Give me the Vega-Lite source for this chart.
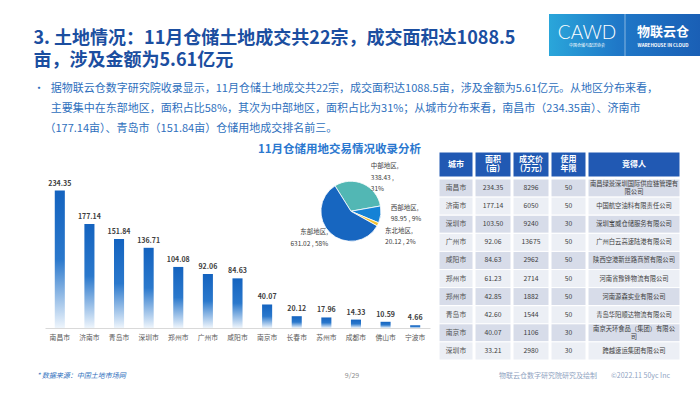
{
"$schema": "https://vega.github.io/schema/vega-lite/v6.json",
"background": "#ffffff",
"padding": {"left": 33, "top": 13, "right": 0, "bottom": 4},
"config": {"view": {"stroke": null}, "font": "Noto Sans CJK SC"},
"datasets": {
  "bars": [
    {"city": "南昌市", "v": 234.35}, {"city": "济南市", "v": 177.14}, {"city": "青岛市", "v": 151.84},
    {"city": "深圳市", "v": 136.71}, {"city": "郑州市", "v": 104.08}, {"city": "广州市", "v": 92.06},
    {"city": "咸阳市", "v": 84.63}, {"city": "南京市", "v": 40.07}, {"city": "长春市", "v": 20.12},
    {"city": "苏州市", "v": 17.96}, {"city": "成都市", "v": 14.33}, {"city": "佛山市", "v": 10.59},
    {"city": "宁波市", "v": 4.66}
  ],
  "pie": [
    {"region": "中部地区", "area": 338.43, "label": "中部地区,\n338.43 ,\n31%"},
    {"region": "西部地区", "area": 98.95, "label": "西部地区,\n98.95 , 9%"},
    {"region": "东北地区", "area": 20.12, "label": "东北地区,\n20.12 , 2%"},
    {"region": "东部地区", "area": 631.02, "label": "东部地区,\n631.02 , 58%"}
  ],
  "tbl": [
    {"r": 1, "city": "南昌市", "area": 234.35, "price": "8296", "yrs": "50", "buyer": "南昌绿景深圳国际供应链管理有\n限公司"},
    {"r": 2, "city": "济南市", "area": 177.14, "price": "6050", "yrs": "50", "buyer": "中国航空油料有限责任公司"},
    {"r": 3, "city": "深圳市", "area": 103.50, "price": "9240", "yrs": "30", "buyer": "深圳宝威仓储服务有限公司"},
    {"r": 4, "city": "广州市", "area": 92.06, "price": "13675", "yrs": "50", "buyer": "广州白云高速陆港有限公司"},
    {"r": 5, "city": "咸阳市", "area": 84.63, "price": "2962", "yrs": "50", "buyer": "陕西空港新丝路商贸有限公司"},
    {"r": 6, "city": "郑州市", "area": 61.23, "price": "2714", "yrs": "50", "buyer": "河南省豫锋物流有限公司"},
    {"r": 7, "city": "郑州市", "area": 42.85, "price": "1882", "yrs": "50", "buyer": "河南源森实业有限公司"},
    {"r": 8, "city": "青岛市", "area": 42.60, "price": "1544", "yrs": "50", "buyer": "青岛华阳顺达物流有限公司"},
    {"r": 9, "city": "南京市", "area": 40.07, "price": "1106", "yrs": "30", "buyer": "南京天环食品（集团）有限公\n司"},
    {"r": 10, "city": "深圳市", "area": 33.21, "price": "2980", "yrs": "30", "buyer": "跨越速运集团有限公司"}
  ],
  "logo": [
    {"k": "CAWD", "sub": "中国仓储与配送协会"},
    {"k": "物联云仓", "sub": "WAREHOUSE IN CLOUD"}
  ],
  "foot": [
    {"k": "src", "t": "* 数据来源：中国土地市场网"},
    {"k": "page", "t": "9/29"},
    {"k": "cr", "t": "物联云仓数字研究院研究及绘制\u2003\u2003©2022.11 50yc Inc"}
  ]
},
"spacing": 10,
"vconcat": [
  {
    "spacing": 9,
    "vconcat": [
      {
        "bounds": "flush",
        "spacing": 15,
        "hconcat": [
          {
            "width": 500, "height": 1,
            "data": {"values": [{}]},
            "mark": {"type": "rule", "opacity": 0},
            "encoding": {},
            "title": {
              "text": ["3. 土地情况：11月仓储土地成交共22宗，成交面积达1088.5", "亩，涉及金额为5.61亿元"],
              "orient": "bottom", "anchor": "start", "offset": 15,
              "font": "Noto Sans CJK SC", "fontSize": 18, "fontWeight": "bold", "color": "#1b4ea0", "lineHeight": 22,
              "subtitle": [
                "•\u2002\u200a据物联云仓数字研究院收录显示，11月仓储土地成交共22宗，成交面积达1088.5亩，涉及金额为5.61亿元。从地区分布来看，",
                "\u200b\u2003\u2002\u200a主要集中在东部地区，面积占比58%，其次为中部地区，面积占比为31%；从城市分布来看，南昌市（234.35亩）、济南市",
                "\u200b\u2003（177.14亩）、青岛市（151.84亩）仓储用地成交排名前三。"
              ],
              "subtitleFont": "Noto Sans CJK SC", "subtitleFontSize": 11, "subtitleColor": "#2e6fbd",
              "subtitleLineHeight": 20, "subtitlePadding": 13
            }
          },
          {
            "width": 152, "height": 42,
            "layer": [
              {
                "data": {"values": [{}]},
                "mark": {"type": "rect", "fill": {"gradient": "linear", "x1": 0, "y1": 0, "x2": 1, "y2": 0,
                  "stops": [{"offset": 0, "color": "#2aa6da"}, {"offset": 0.45, "color": "#1f78c8"}, {"offset": 1, "color": "#1a5fb5"}]}},
                "encoding": {}
              },
              {
                "data": {"values": [{}]},
                "mark": {"type": "rule", "stroke": "#ffffff", "strokeOpacity": 0.6, "strokeWidth": 0.8},
                "encoding": {"x": {"datum": "物联云仓", "type": "nominal", "bandPosition": 0, "scale": {"domain": ["CAWD", "物联云仓"], "paddingInner": 0, "paddingOuter": 0}, "axis": null}}
              },
              {
                "data": {"name": "logo"},
                "transform": [{"filter": "datum.k == 'CAWD'"}],
                "mark": {"type": "text", "font": "Lato", "fontWeight": 300, "fontSize": 19, "color": "#ffffff", "dy": -2},
                "encoding": {"x": {"field": "k", "type": "nominal", "sort": null, "axis": null}, "text": {"field": "k"}}
              },
              {
                "data": {"name": "logo"},
                "transform": [{"filter": "datum.k == 'CAWD'"}],
                "mark": {"type": "text", "fontSize": 4, "color": "#ffffff", "dy": 11},
                "encoding": {"x": {"field": "k", "type": "nominal", "sort": null, "axis": null}, "text": {"field": "sub"}}
              },
              {
                "data": {"name": "logo"},
                "transform": [{"filter": "datum.k == '物联云仓'"}],
                "mark": {"type": "text", "fontWeight": "bold", "fontSize": 13, "color": "#ffffff", "dy": -3},
                "encoding": {"x": {"field": "k", "type": "nominal", "sort": null, "axis": null}, "text": {"field": "k"}}
              },
              {
                "data": {"name": "logo"},
                "transform": [{"filter": "datum.k == '物联云仓'"}],
                "mark": {"type": "text", "fontWeight": "bold", "fontSize": 4.5, "color": "#ffffff", "dy": 11},
                "encoding": {"x": {"field": "k", "type": "nominal", "sort": null, "axis": null}, "text": {"field": "sub"}}
              }
            ]
          }
        ]
      },
      {
        "bounds": "flush",
        "spacing": 9,
        "hconcat": [
          {
            "width": 2, "height": 10,
            "data": {"values": [{}]},
            "mark": {"type": "rule", "opacity": 0},
            "encoding": {}
          },
          {
            "width": 385, "height": 176,
            "title": {"text": "11月仓储用地交易情况收录分析", "anchor": "middle", "dx": 102, "offset": -3,
              "fontSize": 11.5, "fontWeight": "bold", "color": "#2b78cf"},
            "layer": [
              {
                "data": {"name": "bars"},
                "mark": {"type": "bar", "fill": {"gradient": "linear", "x1": 0, "y1": 0, "x2": 0, "y2": 1,
                  "stops": [{"offset": 0, "color": "#1463bf"}, {"offset": 0.5, "color": "#2a78cc"}, {"offset": 1, "color": "#eef5fc"}]}},
                "encoding": {
                  "x": {"field": "city", "type": "nominal", "sort": null,
                    "scale": {"paddingInner": 0.66, "paddingOuter": 0.33},
                    "axis": {"title": null, "labelAngle": 0, "labelFontSize": 6.8, "labelColor": "#595959", "ticks": false,
                      "domainColor": "#d9d9d9", "labelPadding": 6}},
                  "y": {"field": "v", "type": "quantitative", "scale": {"domain": [0, 300]}, "axis": null}
                }
              },
              {
                "data": {"name": "bars"},
                "mark": {"type": "text", "baseline": "bottom", "dy": -4, "fontSize": 7, "fontWeight": "bold", "color": "#404040"},
                "encoding": {
                  "x": {"field": "city", "type": "nominal", "sort": null},
                  "y": {"field": "v", "type": "quantitative"},
                  "text": {"field": "v", "type": "quantitative", "format": ".2f"}
                }
              },
              {
                "data": {"name": "pie"},
                "encoding": {
                  "x": {"datum": "成都市", "type": "nominal", "bandPosition": 0},
                  "y": {"datum": 199, "type": "quantitative"}
                },
                "layer": [
                  {
                    "mark": {"type": "arc", "outerRadius": 30, "stroke": "#ffffff", "strokeWidth": 0.8},
                    "encoding": {
                      "theta": {"field": "area", "type": "quantitative", "stack": true, "scale": {"domain": [0, 1088.52], "range": [1.965, 8.248]}},
                      "order": {"field": "region", "type": "ordinal"},
                      "color": {"field": "region", "type": "nominal",
                        "scale": {"domain": ["东北地区", "东部地区", "中部地区", "西部地区"], "range": ["#f2c230", "#1766c0", "#52b7b4", "#1482d6"]},
                        "legend": null}
                    }
                  },
                  {
                    "transform": [
                      {"window": [{"op": "sum", "field": "area", "as": "cum"}], "sort": [{"field": "region", "order": "ascending"}], "frame": [null, 0]},
                      {"calculate": "datum.cum - datum.area / 2", "as": "mid"},
                      {"filter": "datum.region === '中部地区'"}
                    ],
                    "mark": {"type": "text", "radius": 49, "fontSize": 6.5, "color": "#404040", "lineBreak": "\n", "lineHeight": 11.5, "align": "left", "baseline": "middle"},
                    "encoding": {"theta": {"field": "mid", "type": "quantitative", "stack": null}, "text": {"field": "label"}}
                  },
                  {
                    "transform": [
                      {"window": [{"op": "sum", "field": "area", "as": "cum"}], "sort": [{"field": "region", "order": "ascending"}], "frame": [null, 0]},
                      {"calculate": "datum.cum - datum.area / 2", "as": "mid"},
                      {"filter": "datum.region === '西部地区'"}
                    ],
                    "mark": {"type": "text", "radius": 40, "fontSize": 6.5, "color": "#404040", "lineBreak": "\n", "lineHeight": 11.5, "align": "left", "baseline": "middle", "dy": -8},
                    "encoding": {"theta": {"field": "mid", "type": "quantitative", "stack": null}, "text": {"field": "label"}}
                  },
                  {
                    "transform": [
                      {"window": [{"op": "sum", "field": "area", "as": "cum"}], "sort": [{"field": "region", "order": "ascending"}], "frame": [null, 0]},
                      {"calculate": "datum.cum - datum.area / 2", "as": "mid"},
                      {"filter": "datum.region === '东北地区'"}
                    ],
                    "mark": {"type": "text", "radius": 38, "fontSize": 6.5, "color": "#404040", "lineBreak": "\n", "lineHeight": 11, "align": "left", "baseline": "top"},
                    "encoding": {"theta": {"field": "mid", "type": "quantitative", "stack": null}, "text": {"field": "label"}}
                  },
                  {
                    "transform": [
                      {"window": [{"op": "sum", "field": "area", "as": "cum"}], "sort": [{"field": "region", "order": "ascending"}], "frame": [null, 0]},
                      {"calculate": "datum.cum - datum.area / 2", "as": "mid"},
                      {"filter": "datum.region === '东部地区'"}
                    ],
                    "mark": {"type": "text", "radius": 33, "fontSize": 6.5, "color": "#404040", "lineBreak": "\n", "lineHeight": 11.5, "align": "right", "baseline": "bottom"},
                    "encoding": {"theta": {"field": "mid", "type": "quantitative", "stack": null}, "text": {"field": "label"}}
                  }
                ]
              }
            ]
          },
          {
            "spacing": 0,
            "vconcat": [
              {
                "spacing": 0,
                "hconcat": [
                  {"width": 34, "height": 25, "data": {"values": [{"h": "城市"}]},
                   "layer": [{"mark": {"type": "rect", "fill": "#2159b3", "stroke": "#ffffff", "strokeWidth": 1}, "encoding": {}},
                             {"mark": {"type": "text", "fontSize": 8, "fontWeight": "bold", "color": "#ffffff"}, "encoding": {"text": {"field": "h"}}}]},
                  {"width": 36, "height": 25, "data": {"values": [{"h": "面积\n(亩)"}]},
                   "layer": [{"mark": {"type": "rect", "fill": "#2159b3", "stroke": "#ffffff", "strokeWidth": 1}, "encoding": {}},
                             {"mark": {"type": "text", "fontSize": 8, "fontWeight": "bold", "color": "#ffffff", "lineBreak": "\n", "lineHeight": 9.5, "dy": -4.75}, "encoding": {"text": {"field": "h"}}}]},
                  {"width": 36, "height": 25, "data": {"values": [{"h": "成交价\n(万元)"}]},
                   "layer": [{"mark": {"type": "rect", "fill": "#2159b3", "stroke": "#ffffff", "strokeWidth": 1}, "encoding": {}},
                             {"mark": {"type": "text", "fontSize": 8, "fontWeight": "bold", "color": "#ffffff", "lineBreak": "\n", "lineHeight": 9.5, "dy": -4.75}, "encoding": {"text": {"field": "h"}}}]},
                  {"width": 35, "height": 25, "data": {"values": [{"h": "使用\n年限"}]},
                   "layer": [{"mark": {"type": "rect", "fill": "#2159b3", "stroke": "#ffffff", "strokeWidth": 1}, "encoding": {}},
                             {"mark": {"type": "text", "fontSize": 8, "fontWeight": "bold", "color": "#ffffff", "lineBreak": "\n", "lineHeight": 9.5, "dy": -4.75}, "encoding": {"text": {"field": "h"}}}]},
                  {"width": 92, "height": 25, "data": {"values": [{"h": "竞得人"}]},
                   "layer": [{"mark": {"type": "rect", "fill": "#2159b3", "stroke": "#ffffff", "strokeWidth": 1}, "encoding": {}},
                             {"mark": {"type": "text", "fontSize": 8, "fontWeight": "bold", "color": "#ffffff"}, "encoding": {"text": {"field": "h"}}}]}
                ]
              },
              {
                "spacing": 0,
                "hconcat": [
                  {"width": 34, "height": 181, "data": {"name": "tbl"},
                   "encoding": {"y": {"field": "r", "type": "ordinal", "axis": null, "scale": {"paddingInner": 0, "paddingOuter": 0}}},
                   "layer": [{"mark": {"type": "rect", "stroke": "#ffffff", "strokeWidth": 1}, "encoding": {"fill": {"condition": {"test": "datum.r % 2 == 1", "value": "#d7dce9"}, "value": "#eceff5"}}},
                             {"mark": {"type": "text", "fontSize": 6.8, "color": "#505050"}, "encoding": {"text": {"field": "city"}}}]},
                  {"width": 36, "height": 181, "data": {"name": "tbl"},
                   "encoding": {"y": {"field": "r", "type": "ordinal", "axis": null, "scale": {"paddingInner": 0, "paddingOuter": 0}}},
                   "layer": [{"mark": {"type": "rect", "stroke": "#ffffff", "strokeWidth": 1}, "encoding": {"fill": {"condition": {"test": "datum.r % 2 == 1", "value": "#d7dce9"}, "value": "#eceff5"}}},
                             {"mark": {"type": "text", "fontSize": 6.8, "color": "#404040"}, "encoding": {"text": {"field": "area", "type": "quantitative", "format": ".2f"}}}]},
                  {"width": 36, "height": 181, "data": {"name": "tbl"},
                   "encoding": {"y": {"field": "r", "type": "ordinal", "axis": null, "scale": {"paddingInner": 0, "paddingOuter": 0}}},
                   "layer": [{"mark": {"type": "rect", "stroke": "#ffffff", "strokeWidth": 1}, "encoding": {"fill": {"condition": {"test": "datum.r % 2 == 1", "value": "#d7dce9"}, "value": "#eceff5"}}},
                             {"mark": {"type": "text", "fontSize": 6.8, "color": "#404040"}, "encoding": {"text": {"field": "price"}}}]},
                  {"width": 35, "height": 181, "data": {"name": "tbl"},
                   "encoding": {"y": {"field": "r", "type": "ordinal", "axis": null, "scale": {"paddingInner": 0, "paddingOuter": 0}}},
                   "layer": [{"mark": {"type": "rect", "stroke": "#ffffff", "strokeWidth": 1}, "encoding": {"fill": {"condition": {"test": "datum.r % 2 == 1", "value": "#d7dce9"}, "value": "#eceff5"}}},
                             {"mark": {"type": "text", "fontSize": 6.8, "color": "#404040"}, "encoding": {"text": {"field": "yrs"}}}]},
                  {"width": 92, "height": 181, "data": {"name": "tbl"},
                   "encoding": {"y": {"field": "r", "type": "ordinal", "axis": null, "scale": {"paddingInner": 0, "paddingOuter": 0}}},
                   "layer": [{"mark": {"type": "rect", "stroke": "#ffffff", "strokeWidth": 1}, "encoding": {"fill": {"condition": {"test": "datum.r % 2 == 1", "value": "#d7dce9"}, "value": "#eceff5"}}},
                             {"mark": {"type": "text", "fontSize": 6.3, "color": "#404040", "lineBreak": "\n", "lineHeight": 7.5,
                               "dy": {"expr": "indexof(datum.buyer, '\\n') >= 0 ? -3.75 : 0"}}, "encoding": {"text": {"field": "buyer"}}}]}
                ]
              }
            ]
          }
        ]
      }
    ]
  },
  {
    "width": 636, "height": 10,
    "data": {"name": "foot"},
    "encoding": {
      "x": {"field": "k", "type": "nominal", "scale": {"type": "point", "domain": ["src", "page", "cr"], "padding": 0}, "axis": null},
      "text": {"field": "t"}
    },
    "layer": [
      {"transform": [{"filter": "datum.k == 'src'"}], "mark": {"type": "text", "align": "left", "fontSize": 7, "fontStyle": "italic", "color": "#2e6fbd", "dx": 3}},
      {"transform": [{"filter": "datum.k == 'page'"}], "mark": {"type": "text", "align": "center", "fontSize": 7, "color": "#8c8c8c"}},
      {"transform": [{"filter": "datum.k == 'cr'"}], "mark": {"type": "text", "align": "right", "fontSize": 7, "color": "#8fa3bf"}}
    ]
  }
]
}
